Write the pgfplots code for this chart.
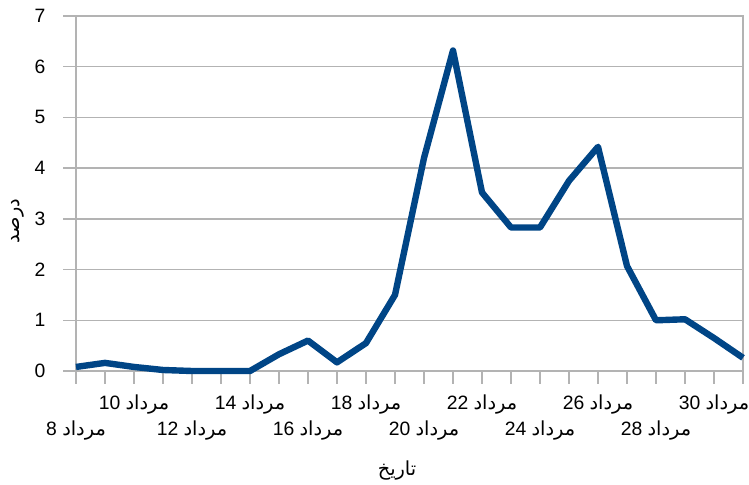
\documentclass[border=0pt]{standalone}
\usepackage{fontspec}
\setmainfont{Liberation Sans}
\newfontfamily\arabicfont[Script=Arabic]{DejaVu Sans}
\TeXXeTstate=1
\usepackage{pgfplots}
\pgfplotsset{compat=1.18}
\definecolor{lineblue}{HTML}{004586}
\definecolor{gridgray}{HTML}{B3B3B3}
\newcommand{\mrd}[1]{\beginR{\arabicfont مرداد} #1\endR}
\begin{document}
\begin{tikzpicture}[x=1pt,y=1pt]
\path[use as bounding box] (-57,-85.5) rectangle (504.75,278.25);
\begin{axis}[
  at={(0,0)}, anchor=south west,
  scale only axis, width=500.25pt, height=266.25pt,
  xmin=8, xmax=31, ymin=0, ymax=7,
  clip=false,
  axis line style={gridgray, line width=1.1pt},
  every tick/.style={gridgray, line width=1.1pt},
  tick align=outside,
  major tick length=9.5pt, minor tick length=9.5pt,
  xtick pos=bottom, ytick pos=left,
  ymajorgrids, grid style={gridgray, line width=1.1pt},
  ytick={0,1,...,7},
  yticklabels={0,1,2,3,4,5,6,7},
  yticklabel style={font=\fontsize{14.5}{17}\selectfont, anchor=east, xshift=-10pt},
  xtick={10,14,18,22,26,30},
  xticklabels={\mrd{10},\mrd{14},\mrd{18},\mrd{22},\mrd{26},\mrd{30}},
  xticklabel style={font=\fontsize{14.5}{17}\selectfont, anchor=base, yshift=-19pt},
  minor xtick={9,11,...,31},
  extra x ticks={8,12,16,20,24,28},
  extra x tick labels={\mrd{8},\mrd{12},\mrd{16},\mrd{20},\mrd{24},\mrd{28}},
  extra x tick style={xticklabel style={yshift=-20pt}},
  xlabel={\arabicfont\beginR تاریخ\endR},
  xlabel style={font=\fontsize{14.5}{17}\selectfont, at={(axis description cs:0.4813,-0.2817)}, anchor=center},
  ylabel={\arabicfont\beginR درصد\endR},
  ylabel style={font=\fontsize{14.5}{17}\selectfont, at={(axis description cs:-0.087,0.4225)}, anchor=center},
]
\addplot[lineblue, line width=4.8pt, line join=round] coordinates {
(8,0.08) (9,0.16) (10,0.08) (11,0.02) (12,0) (13,0) (14,0) (15,0.33)
(16,0.6) (17,0.17) (18,0.55) (19,1.5) (20,4.2) (21,6.32) (22,3.52)
(23,2.83) (24,2.83) (25,3.75) (26,4.42) (27,2.07) (28,1.0) (29,1.02)
(30,0.65) (31,0.26)
};
\end{axis}
\end{tikzpicture}
\end{document}
